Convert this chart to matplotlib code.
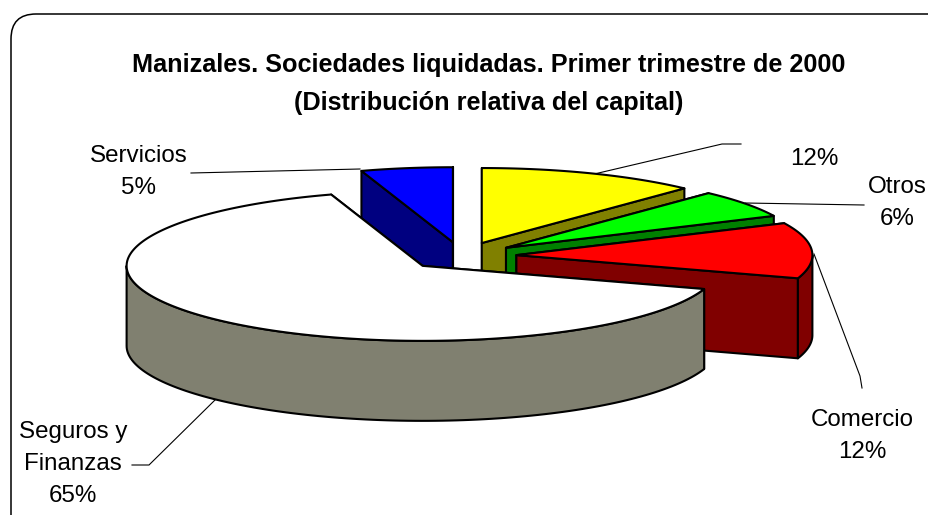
import numpy as np
import matplotlib
matplotlib.use("Agg")
import matplotlib.pyplot as plt
from matplotlib.patches import Polygon, FancyBboxPatch

# ---- data ----
categories = ["", "Otros", "Comercio", "Seguros y\nFinanzas", "Servicios"]
values = [12, 6, 12, 65, 5]
top_colors = ["#FFFF00", "#00FF00", "#FF0000", "#FFFFFF", "#0000FF"]
side_colors = ["#808000", "#008000", "#800000", "#808070", "#000080"]
title_lines = ["Manizales. Sociedades liquidadas. Primer trimestre de 2000",
               "(Distribución relativa del capital)"]

# ---- projection of the 3-D pie, in figure pixels ----
CX, CY = 461.5, 256.0
RX, RY = 296.0, 75.0
EXPLODE = 55.0 / 296.0
DEPTH = 80.0

W, H = 929, 515
fig = plt.figure(figsize=(W / 100, H / 100), dpi=100, facecolor="white")
ax = fig.add_axes([0, 0, 1, 1])
ax.set_xlim(0, W)
ax.set_ylim(H, 0)
ax.axis("off")
FONT = ["Liberation Sans", "DejaVu Sans"]

ax.add_patch(FancyBboxPatch((11, 14), 950, 530, boxstyle="round,pad=0,rounding_size=25",
                            fc="white", ec="black", lw=1.1, zorder=0, clip_on=True))


def rim(c, t):
    return np.column_stack([c[0] + RX * np.sin(t), c[1] - RY * np.cos(t)])


def poly(pts, fc, z):
    ax.add_patch(Polygon(pts, closed=True, fc=fc, ec="black", lw=1.5, zorder=z,
                         joinstyle="round"))


fractions = np.array(values, dtype=float) / np.sum(values)
edges = np.concatenate([[0.0], np.cumsum(fractions)]) * 2 * np.pi
# back to front: first, last, then clockwise order
paint = [0, 4, 1, 2, 3]
for z, i in enumerate(paint):
    a, b = edges[i], edges[i + 1]
    mid = (a + b) / 2
    c = (CX + EXPLODE * RX * np.sin(mid), CY - EXPLODE * RY * np.cos(mid))
    down = np.array([0, DEPTH])
    base = 3 * z + 2
    # radial walls
    for t in (a, b):
        p = rim(c, np.array([t]))[0]
        q = np.array(c)
        poly([q, p, p + down, q + down], side_colors[i], base)
    # outer wall (front half only)
    lo, hi = max(a, np.pi / 2), min(b, 3 * np.pi / 2)
    if hi > lo:
        tt = np.linspace(lo, hi, 120)
        r = rim(c, tt)
        poly(np.vstack([r, (r + down)[::-1]]), side_colors[i], base + 1)
    # top face
    tt = np.linspace(a, b, 200)
    poly(np.vstack([[c], rim(c, tt)]), top_colors[i], base + 2)

# ---- title ----
for line, y in zip(title_lines, (65, 103)):
    ax.text(489, y, line, ha="center", va="center", family=FONT, weight="bold",
            fontsize=18.2, color="black", zorder=40)

# ---- labels ----
LS = 17.4
def label(x, y, txt):
    ax.text(x, y, txt, ha="center", va="center", family=FONT, fontsize=LS,
            linespacing=1.6, color="black", zorder=40)

pct = [f"{v}%" for v in values]
label(814, 159, pct[0])
label(897, 203, f"{categories[1]}\n{pct[1]}")
label(862, 436, f"{categories[2]}\n{pct[2]}")
label(73, 464, f"{categories[3]}\n{pct[3]}")
label(139, 172, f"{categories[4]}\n{pct[4]}")

# ---- leader lines ----
leaders = [
    ([590, 722, 741], [175, 144, 144]),
    ([745, 864], [203, 205]),
    ([814, 860, 862], [254, 376, 388]),
    ([215, 149, 132], [400, 465, 465]),
    ([191, 360], [173, 169]),
]
for xs, ys in leaders:
    ax.plot(xs, ys, color="black", lw=0.8, zorder=1, solid_joinstyle="miter")

fig.savefig("out.png", dpi=100, facecolor="white")
